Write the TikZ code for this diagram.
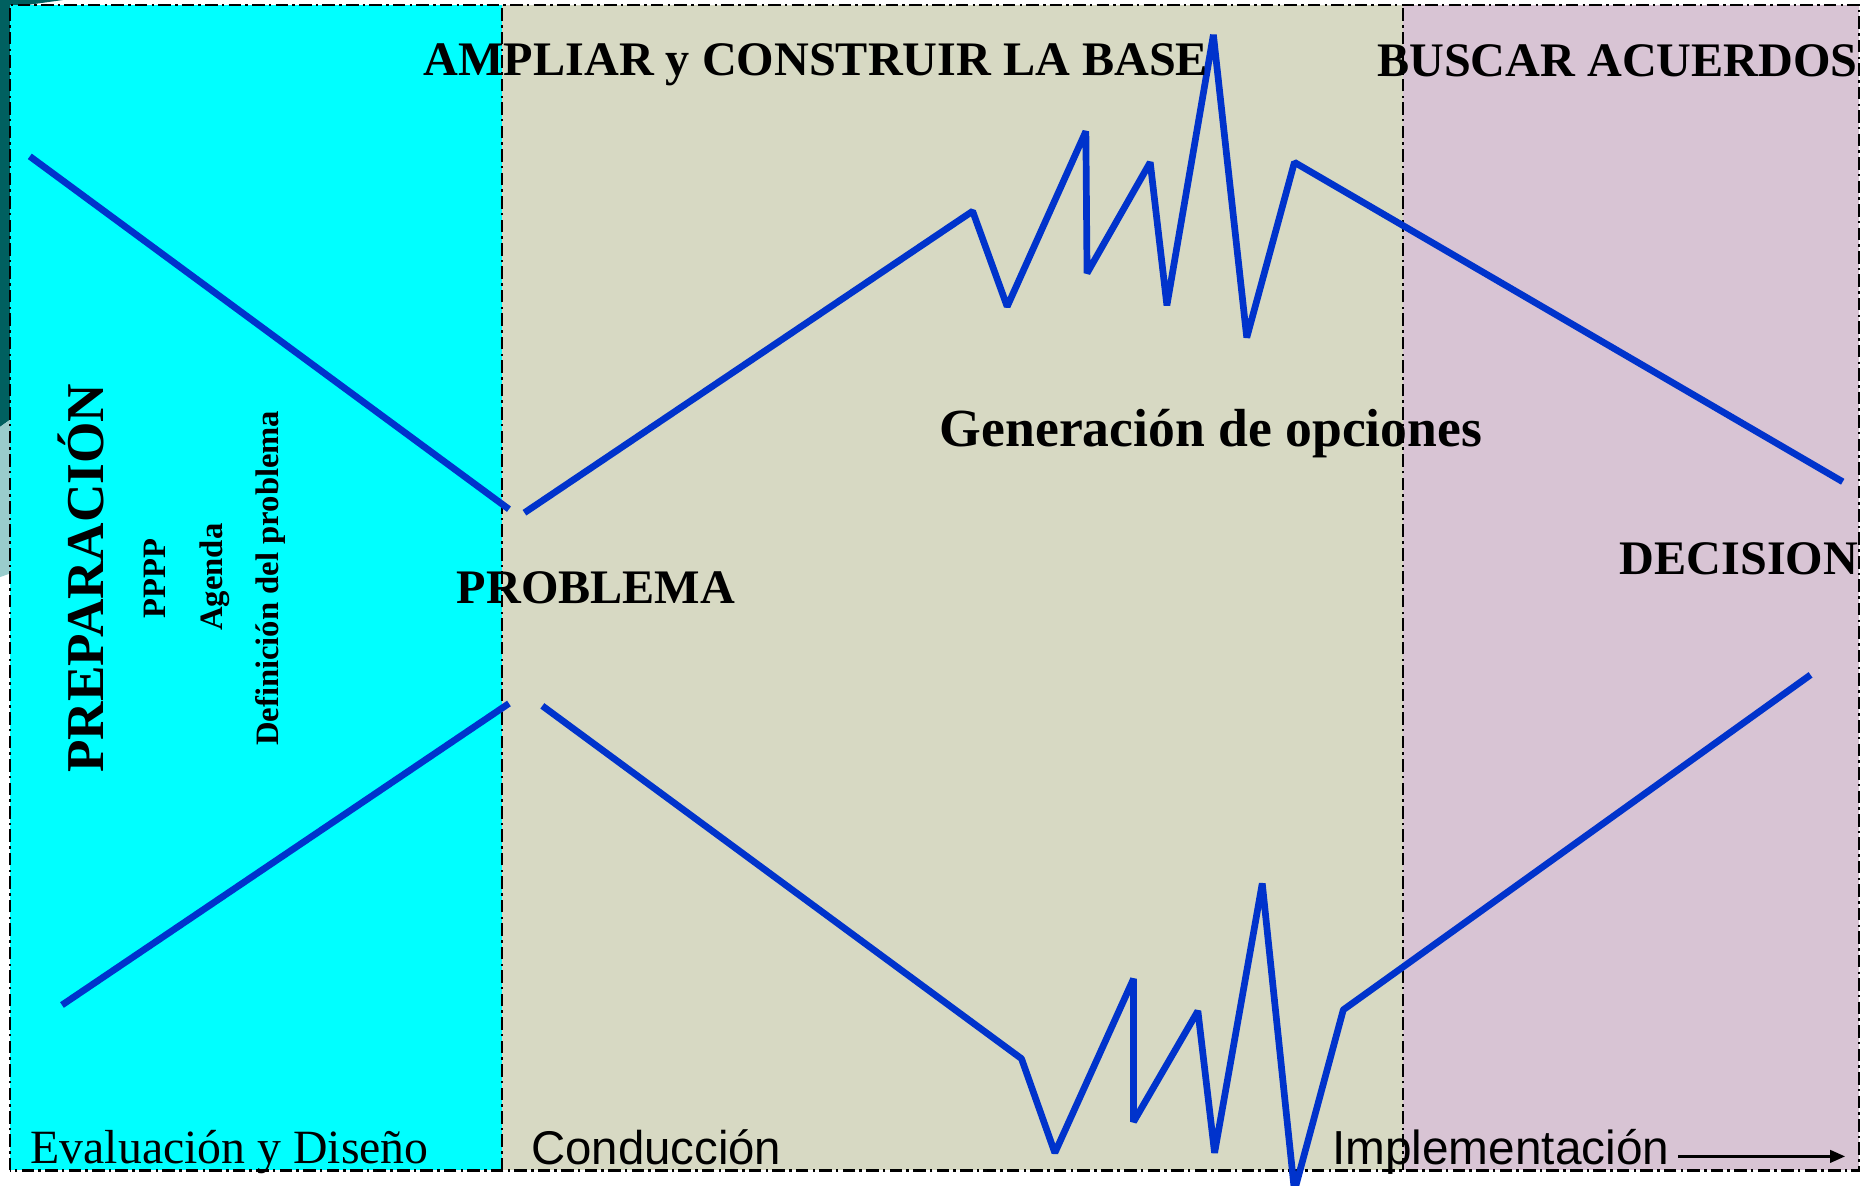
\documentclass[tikz,border=0pt]{standalone}
\usepackage{fontspec}
\usepackage{tikz}
\usetikzlibrary{arrows.meta}
\setmainfont{Liberation Serif}
\newfontfamily\arialfont{Liberation Sans}

\definecolor{slidedark}{RGB}{0,96,96}
\definecolor{slidelight}{RGB}{153,204,204}
\definecolor{prepcyan}{RGB}{0,255,255}
\definecolor{condbeige}{RGB}{215,217,195}
\definecolor{implmauve}{RGB}{216,196,212}
\definecolor{lineblue}{RGB}{0,51,204}

\begin{document}
\begin{tikzpicture}[
  blueline/.style={draw=lineblue, line width=1.6pt, line join=bevel},
  frameline/.style={draw=black, line width=0.5pt, dash pattern=on 3pt off 1pt on 0.6pt off 1pt},
  heading/.style={inner sep=0pt, anchor=base, font=\bfseries\fontsize{11.5}{13}\selectfont},
  vlabel/.style={inner sep=0pt, anchor=base, rotate=90, font=\bfseries\fontsize{7.8}{9}\selectfont},
  phase/.style={inner sep=0pt, anchor=base west, font=\fontsize{11.4}{13}\selectfont}
]
\useasboundingbox (0,0) rectangle (15.63,9.942);

% slide background at the left
\fill[slidedark] (0,9.942) -- (0.53,9.942) -- (0.084,9.88) -- (0.084,6.42) -- (0,6.36) -- cycle;
\fill[slidelight] (0,6.36) -- (0.084,6.42) -- (0.084,5.13) -- (0,5.10) -- cycle;

% phases
\fill[prepcyan] (0.084,0.122) rectangle (4.21,9.90);
\fill[condbeige] (4.21,0.122) rectangle (11.77,9.90);
\fill[implmauve] (11.77,0.122) rectangle (15.60,9.90);
\path[frameline] (0.084,0.122) rectangle (15.60,9.90);
\path[frameline] (4.21,0.122) -- (4.21,9.90);
\path[frameline] (11.77,0.122) -- (11.77,9.90);

% upper line
\path[blueline] (0.25,8.63) -- (4.27,5.67);
\path[blueline] (4.40,5.64) -- (8.16,8.17) -- (8.45,7.37) -- (9.11,8.84) -- (9.12,7.65)
  -- (9.65,8.58) -- (9.79,7.38) -- (10.18,9.65) -- (10.46,7.11) -- (10.86,8.58) -- (15.46,5.90);

% lower line
\path[blueline] (0.52,1.51) -- (4.27,4.04);
\path[blueline] (4.55,4.02) -- (8.57,1.06) -- (8.85,0.27) -- (9.51,1.73) -- (9.51,0.53)
  -- (10.05,1.46) -- (10.19,0.27) -- (10.59,2.53) -- (10.86,-0.05) -- (11.27,1.47) -- (15.19,4.28);

% titles
\node[heading] (ampliar) at (6.845,9.31) {AMPLIAR y CONSTRUIR LA BASE};
\node[heading] (buscar) at (13.57,9.30) {BUSCAR ACUERDOS};
\node[heading, font=\bfseries\fontsize{12.8}{14}\selectfont] (opciones) at (10.16,6.20) {Generación de opciones};
\node[heading] (problema) at (5.00,4.88) {PROBLEMA};
\node[heading] (decision) at (14.59,5.12) {DECISION};

% preparation
\node[vlabel, font=\bfseries\fontsize{12.7}{14}\selectfont] (prep) at (0.865,5.09) {PREPARACIÓN};
\node[vlabel] (pppp) at (1.39,5.09) {PPPP};
\node[vlabel] (agenda) at (1.87,5.10) {Agenda};
\node[vlabel] (defprob) at (2.34,5.09) {Definición del problema};

% phase names
\node[phase] (evaluacion) at (0.25,0.18) {Evaluación y Diseño};
\node[phase, font=\arialfont\fontsize{11.3}{13}\selectfont] (conduccion) at (4.45,0.17) {Conducción};
\node[phase, font=\arialfont\fontsize{11.4}{13}\selectfont] (implementacion) at (11.17,0.17) {Implementación};
\coordinate (flecha) at (15.48,0.24);
\draw[line width=0.6pt, -{Triangle[length=3.6pt, width=3pt]}] (14.08,0.24) -- (flecha);
\end{tikzpicture}
\end{document}
